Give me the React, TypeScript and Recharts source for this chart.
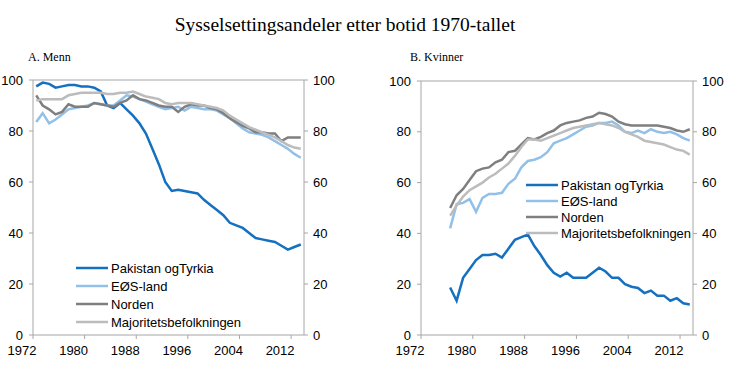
import React from 'react';
import {
  LineChart,
  Line,
  XAxis,
  YAxis,
  ReferenceLine,
  Legend
} from 'recharts';

// Panel A: Menn, 1972-2013
const menYears = [
  1972, 1973, 1974, 1975, 1976, 1977, 1978, 1979, 1980, 1981, 1982, 1983, 1984, 1985,
  1986, 1987, 1988, 1989, 1990, 1991, 1992, 1993, 1994, 1995, 1996, 1997, 1998, 1999,
  2000, 2001, 2002, 2003, 2004, 2005, 2006, 2007, 2008, 2009, 2010, 2011, 2012, 2013
];
const menPakistan = [
  97.5, 99, 98.5, 97, 97.5, 98, 98, 97.5, 97.5, 97, 95.5, 90, 89, 91,
  88.5, 86, 83, 79, 73, 67, 60, 56.5, 57, 56.5, 56, 55.5, 53, 51,
  49, 47, 44, 43, 42, 40, 38, 37.5, 37, 36.5, 35, 33.5, 34.5, 35.5
];
const menEos = [
  83.5, 87, 83, 84.5, 86.5, 88.5, 89, 89.5, 90, 91, 90.5, 90, 90, 92,
  94, 93.5, 92.5, 91.5, 90.5, 89.5, 88.5, 89, 89.5, 88, 89.5, 89, 88.5, 88.5,
  88, 86.5, 85, 83, 81, 79.5, 79, 78.5, 77.5, 76, 74.5, 73, 71, 69.5
];
const menNorden = [
  94, 90, 88.5, 86.5, 87.5, 90.5, 89.5, 89.5, 89.5, 91, 90.5, 90, 89.5, 91,
  92, 94, 92.5, 92, 91, 90, 89.5, 89.5, 87.5, 89.5, 90.5, 90, 90, 89,
  88.5, 87, 85, 83.5, 82, 81, 79.5, 79.5, 79, 79, 76, 77.5, 77.5, 77.5
];
const menMajor = [
  92, 92.5, 92.5, 92.5, 92.5, 94, 94.5, 95, 95, 95, 95, 94.5, 94.5, 95,
  95, 95.5, 94.5, 93.5, 93, 92.5, 91, 90.5, 91, 91, 91, 90.5, 90, 89.5,
  89, 88, 86, 84.5, 83, 81.5, 80.5, 79.5, 78.5, 77.5, 76, 74.5, 73.5, 73
];

// Panel B: Kvinner, 1976-2013
const womenYears = [
  1976, 1977, 1978, 1979, 1980, 1981, 1982, 1983, 1984, 1985, 1986, 1987, 1988,
  1989, 1990, 1991, 1992, 1993, 1994, 1995, 1996, 1997, 1998, 1999, 2000, 2001,
  2002, 2003, 2004, 2005, 2006, 2007, 2008, 2009, 2010, 2011, 2012, 2013
];
const womenPakistan = [
  18.7, 13.5, 22.5, 26, 29.5, 31.5, 31.5, 32, 30.5, 34, 37.5, 38.5, 39.5,
  35, 31.5, 27.5, 24.5, 23, 24.5, 22.5, 22.5, 22.5, 24.5, 26.5, 25, 22.5,
  22.5, 20, 19, 18.5, 16.5, 17.5, 15.5, 15.5, 13.5, 14.5, 12.5, 12
];
const womenEos = [
  42, 51.5, 52, 53.5, 48.5, 54, 55.5, 55.5, 56, 59.5, 61.5, 66, 68.5,
  69, 70, 72, 75.5, 76.5, 77.5, 79, 80.5, 82, 82.5, 83.5, 83.5, 84,
  82.5, 80, 79.5, 80.5, 79.5, 81, 80, 79.5, 80, 79, 77.5, 76.5
];
const womenNorden = [
  50, 55, 57.5, 61, 64.5, 65.5, 66, 68, 69, 72, 72.5, 75, 77.5,
  77, 78, 79.5, 80.5, 82.5, 83.5, 84, 84.5, 85.5, 86, 87.5, 87, 86,
  84, 83, 82.5, 82.5, 82.5, 82.5, 82.5, 82, 81.5, 80.5, 80, 81
];
const womenMajor = [
  47, 51, 54.5, 57, 58.5, 60, 62, 63.5, 65.5, 67.5, 70.5, 74, 77,
  77, 76.5, 77.5, 78.5, 79.5, 80.5, 81.5, 82, 82.5, 83, 83.5, 83, 82.5,
  81.5, 80, 79, 78, 76.5, 76, 75.5, 75, 74, 73, 72.5, 71
];

const xTicks = [1972, 1980, 1988, 1996, 2004, 2012];
const yTicks = [0, 20, 40, 60, 80, 100];

const SERIES = [
  { key: 'pakistan', name: 'Pakistan ogTyrkia', color: '#1570c0' },
  { key: 'eos', name: 'EØS-land', color: '#92c0e8' },
  { key: 'norden', name: 'Norden', color: '#7f7f7f' },
  { key: 'major', name: 'Majoritetsbefolkningen', color: '#bcbcbc' }
];

// annual values are plotted at mid-year, like a category axis
const menData = menYears.map((y, i) => ({
  x: y + 0.5,
  pakistan: menPakistan[i],
  eos: menEos[i],
  norden: menNorden[i],
  major: menMajor[i]
}));

const womenData = womenYears.map((y, i) => ({
  x: y + 0.5,
  pakistan: womenPakistan[i],
  eos: womenEos[i],
  norden: womenNorden[i],
  major: womenMajor[i]
}));

const AXIS = '#a6a6a6';
const SANS = '"Liberation Sans", Arial, sans-serif';
const SERIF = '"Liberation Serif", "Times New Roman", serif';
const tickStyle = { fill: '#000', fontSize: 13, fontFamily: SANS };

function LegendBox({ rowHeight }: { rowHeight: number }) {
  return (
    <div>
      {SERIES.map((s) => (
        <div key={s.key} style={{ display: 'flex', alignItems: 'center', height: rowHeight }}>
          <svg width={32} height={4} style={{ display: 'block' }}>
            <line x1={0} x2={32} y1={2} y2={2} stroke={s.color} strokeWidth={2.5} />
          </svg>
          <span style={{ marginLeft: 3, fontSize: 13, fontFamily: SANS, color: '#000', whiteSpace: 'nowrap' }}>
            {s.name}
          </span>
        </div>
      ))}
    </div>
  );
}

interface PanelProps {
  data: any[];
  margin: { top: number; right: number; bottom: number; left: number };
  leftWidth: number;
  rightWidth: number;
  legendLeft: number;
  legendTop: number;
  rowHeight: number;
}

function Panel({ data, margin, leftWidth, rightWidth, legendLeft, legendTop, rowHeight }: PanelProps) {
  return (
    <LineChart width={365} height={376} data={data} margin={margin}>
      <XAxis
        type="number"
        dataKey="x"
        domain={[1972, 2014]}
        ticks={xTicks}
        interval={0}
        allowDataOverflow
        stroke={AXIS}
        tickSize={4}
        tickMargin={7}
        height={30}
        tick={{ ...tickStyle, dx: -11 }}
      />
      <YAxis
        yAxisId="l"
        type="number"
        domain={[0, 100]}
        ticks={yTicks}
        interval={0}
        allowDataOverflow
        width={leftWidth}
        stroke={AXIS}
        tickSize={4}
        tickMargin={6}
        tick={tickStyle}
      />
      <YAxis
        yAxisId="r"
        type="number"
        orientation="right"
        domain={[0, 100]}
        ticks={yTicks}
        interval={0}
        allowDataOverflow
        width={rightWidth}
        stroke={AXIS}
        tickSize={4}
        tickMargin={5}
        tick={tickStyle}
      />
      <ReferenceLine yAxisId="l" y={100} stroke={AXIS} />
      {SERIES.map((s) => (
        <Line
          key={s.key}
          yAxisId="l"
          type="linear"
          dataKey={s.key}
          name={s.name}
          stroke={s.color}
          strokeWidth={2.5}
          dot={false}
          isAnimationActive={false}
        />
      ))}
      <Legend
        layout="vertical"
        align="center"
        verticalAlign="middle"
        wrapperStyle={{ left: legendLeft, top: legendTop, width: 'auto', height: 'auto' }}
        content={() => <LegendBox rowHeight={rowHeight} />}
      />
    </LineChart>
  );
}

export default function App() {
  return (
    <div style={{ position: 'absolute', left: 0, top: 0, width: 730, height: 376, background: '#fff' }}>
      <svg width={730} height={70} style={{ position: 'absolute', left: 0, top: 0 }}>
        <text x={345} y={31} textAnchor="middle" fontSize={19.5} fontFamily={SERIF} fill="#000">
          Sysselsettingsandeler etter botid 1970-tallet
        </text>
        <text x={28} y={61} fontSize={12} fontFamily={SERIF} fill="#000">
          A. Menn
        </text>
        <text x={410} y={61} fontSize={12} fontFamily={SERIF} fill="#000">
          B. Kvinner
        </text>
      </svg>
      <div style={{ position: 'absolute', left: 0, top: 0 }}>
        <Panel
          data={menData}
          margin={{ top: 80, right: 21, bottom: 11, left: 0 }}
          leftWidth={33}
          rightWidth={40}
          legendLeft={76}
          legendTop={259}
          rowHeight={18}
        />
      </div>
      <div style={{ position: 'absolute', left: 365, top: 0 }}>
        <Panel
          data={womenData}
          margin={{ top: 81, right: 0, bottom: 11, left: 20 }}
          leftWidth={36}
          rightWidth={37}
          legendLeft={161}
          legendTop={177}
          rowHeight={16}
        />
      </div>
    </div>
  );
}
